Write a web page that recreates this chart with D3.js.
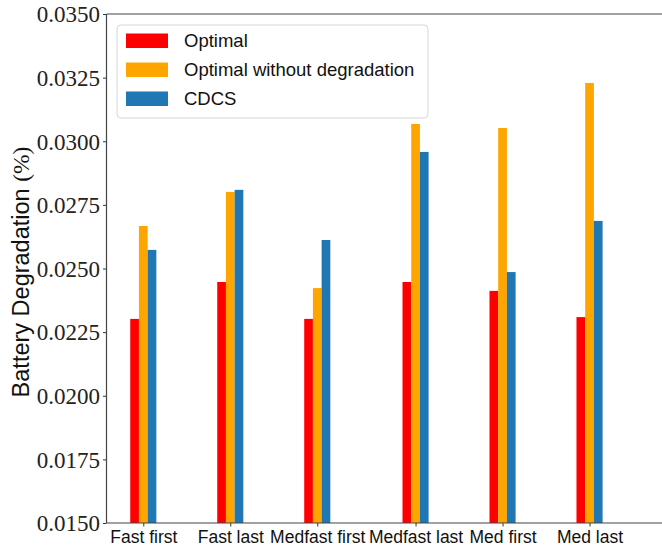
<!DOCTYPE html>
<html>
<head>
<meta charset="utf-8">
<script src="https://cdn.jsdelivr.net/npm/d3@7"></script>
<style>
  html, body { margin: 0; padding: 0; background: #fff; }
  svg { display: block; }
  .serif { font-family: "Times New Roman", "Liberation Serif", "DejaVu Serif", serif; }
  .sans { font-family: "Liberation Sans", Arial, sans-serif; }
</style>
</head>
<body>
<svg id="chart" width="662" height="550"></svg>
<script>
// Scenario names and their positions along the x axis
const categories = ["Fast first", "Fast last", "Medfast first", "Medfast last", "Med first", "Med last"];
const positions = [0, 1, 2, 3.13, 4.13, 5.13];

// Battery degradation (%) per scenario
const optimal = [0.02302, 0.02447, 0.02302, 0.02447, 0.02412, 0.02309];
const optimalNoDeg = [0.02667, 0.02801, 0.02423, 0.03068, 0.03052, 0.03229];
const cdcs = [0.02573, 0.02809, 0.02612, 0.02958, 0.02486, 0.02687];

const seriesNames = ["Optimal", "Optimal without degradation", "CDCS"];
const seriesColors = ["#ff0000", "#ffa500", "#1f77b4"];
const seriesValues = [optimal, optimalNoDeg, cdcs];

const yTicks = [0.015, 0.0175, 0.02, 0.0225, 0.025, 0.0275, 0.03, 0.0325, 0.035];

const svg = d3.select("#chart");
const plotLeft = 106.5, plotTop = 14, plotBottom = 523, plotRight = 700;

const x = d3.scaleLinear().domain([-0.423, 6.4]).range([plotLeft, plotRight]);
const y = d3.scaleLinear().domain([0.015, 0.035]).range([plotBottom, plotTop]);
const barW = 0.1;

// bars
seriesValues.forEach((vals, s) => {
  svg.append("g").selectAll("rect")
    .data(vals)
    .join("rect")
    .attr("x", (d, i) => x(positions[i] + (s - 1) * barW - barW / 2))
    .attr("width", x(barW) - x(0))
    .attr("y", d => y(d))
    .attr("height", d => y(0.015) - y(d))
    .attr("fill", seriesColors[s]);
});

// y axis
const yAxis = svg.append("g")
  .attr("transform", `translate(${plotLeft},0)`)
  .call(d3.axisLeft(y).tickValues(yTicks).tickFormat(d3.format(".4f")).tickSize(3.5).tickPadding(3));
yAxis.attr("font-family", null).attr("font-size", null);
yAxis.select(".domain").remove();
yAxis.selectAll(".tick line").attr("stroke", "#333");
yAxis.selectAll(".tick text")
  .attr("class", "serif")
  .style("font-size", "23px")
  .attr("fill", "#222")
  .attr("dy", "0.34em");

// x axis
const xAxis = svg.append("g")
  .attr("transform", `translate(0,${plotBottom})`)
  .call(d3.axisBottom(x).tickValues(positions).tickFormat((d, i) => categories[i]).tickSize(3.5).tickPadding(4));
xAxis.attr("font-family", null).attr("font-size", null);
xAxis.select(".domain").remove();
xAxis.selectAll(".tick line").attr("stroke", "#333");
xAxis.selectAll(".tick text")
  .attr("class", "sans")
  .style("font-size", "17.5px")
  .attr("fill", "#111");

// spines
svg.append("line").attr("x1", plotLeft).attr("x2", plotLeft).attr("y1", plotTop).attr("y2", plotBottom)
  .attr("stroke", "#444").attr("stroke-width", 1.2);
svg.append("line").attr("x1", plotLeft).attr("x2", plotRight).attr("y1", plotBottom).attr("y2", plotBottom)
  .attr("stroke", "#444").attr("stroke-width", 1.2);
svg.append("line").attr("x1", plotLeft).attr("x2", plotRight).attr("y1", plotTop).attr("y2", plotTop)
  .attr("stroke", "#444").attr("stroke-width", 1.2);

// y label
const yl = svg.append("text")
  .attr("transform", `translate(29,272) rotate(-90)`)
  .attr("text-anchor", "middle")
  .style("font-size", "23.5px")
  .attr("fill", "#111");
yl.append("tspan").attr("class", "sans").text("Battery Degradation ");
yl.append("tspan").attr("class", "serif").text("(%)");

// legend
const lg = svg.append("g").attr("transform", "translate(117,25)");
lg.append("rect").attr("width", 311).attr("height", 93).attr("rx", 4)
  .attr("fill", "rgba(255,255,255,0.8)").attr("stroke", "#d6d6d6");
seriesNames.forEach((name, i) => {
  lg.append("rect").attr("x", 9).attr("y", 8.5 + i * 29).attr("width", 42).attr("height", 14.5)
    .attr("fill", seriesColors[i]);
  lg.append("text").attr("x", 67).attr("y", 22 + i * 29)
    .attr("class", "sans")
    .style("font-size", "18.5px").attr("fill", "#111").text(name);
});
</script>
</body>
</html>
